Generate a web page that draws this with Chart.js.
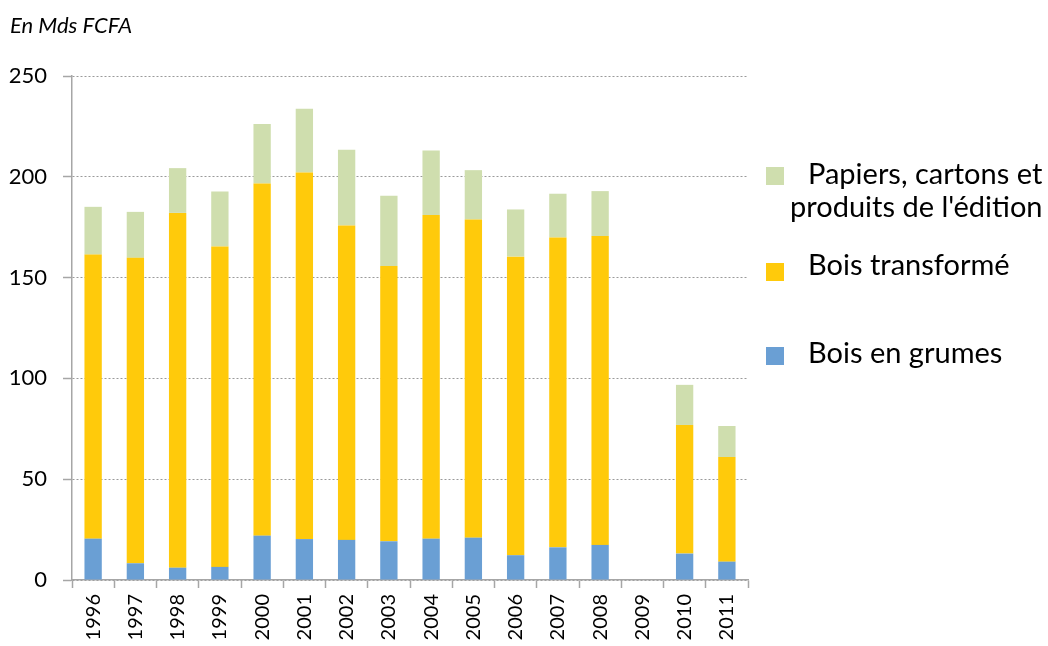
<!DOCTYPE html>
<html>
<head>
<meta charset="utf-8">
<script src="https://cdn.jsdelivr.net/npm/chart.js@4/dist/chart.umd.min.js"></script>
<style>
  body { margin: 0; background: #fff; }
  #wrap { position: relative; width: 1048px; height: 646px; overflow: hidden; }
  #unit { position: absolute; left: 10px; top: 11px; font: italic 22px Lato, sans-serif; color: #000; }
  .box { position: absolute; left: 766px; width: 18px; height: 18px; }
  .txt { position: absolute; left: 790px; font: 29px Lato, sans-serif; line-height: 33px; color: #000; white-space: nowrap; }
</style>
</head>
<body>
<div id="wrap">
  <canvas id="myChart" width="1048" height="646"></canvas>
  <div id="unit">En Mds FCFA</div>
  <div id="legend"></div>
</div>
<script>
const years = ['1996', '1997', '1998', '1999', '2000', '2001', '2002', '2003',
    '2004', '2005', '2006', '2007', '2008', '2009', '2010', '2011'];

// valeurs (en Mds FCFA)
const boisGrumes = [20.5, 8.3, 6.1, 6.5, 22.0, 20.3, 19.9, 19.2, 20.5, 21.0, 12.3, 16.2, 17.4, null, 13.1, 9.1];
const boisTransforme = [140.9, 151.5, 176.0, 158.9, 174.7, 181.8, 155.9, 136.6, 160.6, 157.8, 148.1, 153.7, 153.2, null, 63.8, 51.9];
const papiers = [23.7, 22.8, 22.2, 27.3, 29.5, 31.6, 37.6, 34.8, 32.0, 24.5, 23.4, 21.7, 22.3, null, 19.9, 15.4];

const seriesNames = ['Bois en grumes', 'Bois transformé', "Papiers, cartons et produits de l'édition"];
const seriesColors = ['#6A9FD4', '#FFCA0B', '#CFDEAE'];

const yTicks = [0, 50, 100, 150, 200, 250];

const axisGray = '#A6A6A6';

const ctx = document.getElementById('myChart').getContext('2d');
const chart = new Chart(ctx, {
    type: 'bar',
    data: {
        labels: years,
        datasets: [boisGrumes, boisTransforme, papiers].map((values, i) => ({
            label: seriesNames[i],
            data: values,
            backgroundColor: seriesColors[i],
            borderWidth: 0,
            categoryPercentage: 1,
            barPercentage: 0.41
        }))
    },
    options: {
        responsive: false,
        animation: false,
        layout: { padding: { left: 0, right: 300, top: 76, bottom: 0 } },
        plugins: {
            legend: { display: false },
            tooltip: { enabled: false }
        },
        scales: {
            x: {
                stacked: true,
                afterFit: scale => { scale.height = 66; },
                grid: {
                    offset: true,
                    drawOnChartArea: false,
                    drawTicks: true,
                    tickLength: 8,
                    tickColor: axisGray,
                    tickWidth: 1.5
                },
                border: { display: true, color: axisGray, width: 1.5 },
                ticks: {
                    minRotation: 90,
                    maxRotation: 90,
                    autoSkip: false,
                    padding: 6,
                    color: '#000',
                    font: { family: 'Lato', size: 20 }
                }
            },
            y: {
                stacked: true,
                min: yTicks[0],
                max: yTicks[yTicks.length - 1],
                afterFit: scale => { scale.width = 72; },
                afterBuildTicks: scale => { scale.ticks = yTicks.map(v => ({ value: v })); },
                grid: {
                    color: '#9A9A9A',
                    lineWidth: 1,
                    tickLength: 9,
                    tickColor: axisGray,
                    tickWidth: 1.5
                },
                border: { display: true, color: axisGray, width: 1.5, dash: [2, 2] },
                ticks: {
                    padding: 16,
                    color: '#000',
                    font: { family: 'Lato', size: 22 }
                }
            }
        }
    }
});

// légende à droite, comme dans l'original (ordre inversé)
const boxTops = [347, 263, 167];
const textTops = [335, 247, 156];
const legendHtml = [
    '<span style="padding-left:18px">Bois en grumes</span>',
    '<span style="padding-left:18px">Bois transformé</span>',
    '<span style="padding-left:18px">Papiers, cartons et</span><br>produits de l\'édition'
];
const legend = document.getElementById('legend');
[2, 1, 0].forEach(i => {
    const box = document.createElement('div');
    box.className = 'box';
    box.style.top = boxTops[i] + 'px';
    box.style.background = seriesColors[i];
    const txt = document.createElement('div');
    txt.className = 'txt';
    txt.style.top = textTops[i] + 'px';
    txt.innerHTML = legendHtml[i];
    legend.appendChild(box);
    legend.appendChild(txt);
});
</script>
</body>
</html>
